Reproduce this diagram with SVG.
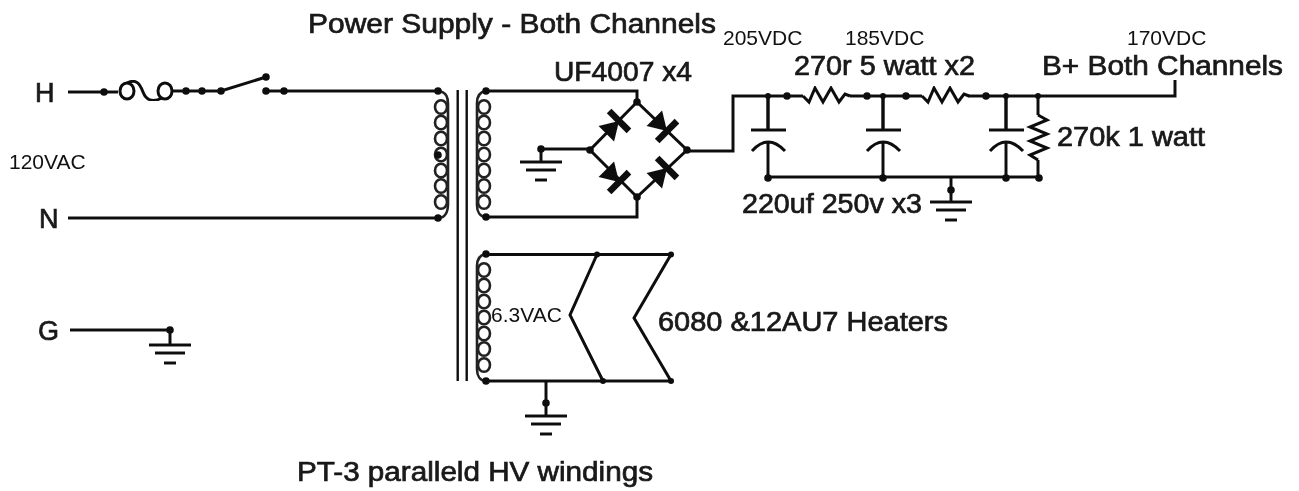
<svg xmlns="http://www.w3.org/2000/svg" width="1299" height="491" viewBox="0 0 1299 491">
<defs>
<style>
.w{fill:none;stroke:#111;stroke-width:3;stroke-linejoin:miter}
.t{fill:none;stroke:#111;stroke-width:2.400}
.c{fill:none;stroke:#222;stroke-width:2.600}
.b{font-family:"Liberation Sans",Arial,sans-serif;font-size:27px;fill:#1a1a1a;stroke:#1a1a1a;stroke-width:.7}
.s{font-family:"Liberation Sans",Arial,sans-serif;font-size:21px;fill:#111}
</style>
<filter id="soft" x="-2%" y="-2%" width="104%" height="104%"><feGaussianBlur stdDeviation="0.55"/></filter>
<circle id="d" r="3.800" fill="#111"/>
<circle id="e" r="3" fill="#111"/>
<path id="gnd" class="w" d="M-21 0H21M-15 8H15M-6 18H6"/>
<g id="coil"><ellipse class="c" cx="0" cy="16" rx="6" ry="6.800"/><ellipse class="c" cx="0" cy="31.500" rx="6" ry="6.800"/><ellipse class="c" cx="0" cy="47.500" rx="6" ry="6.800"/><ellipse class="c" cx="0" cy="63.500" rx="6" ry="6.800"/><ellipse class="c" cx="0" cy="79.500" rx="6" ry="6.800"/><ellipse class="c" cx="0" cy="95" rx="6" ry="6.800"/><ellipse class="c" cx="0" cy="111" rx="6" ry="6.800"/></g>
<g id="diode"><path d="M-12 -11L-12 11L6 0Z" fill="#111"/><path d="M6 -14V14" stroke="#111" stroke-width="6.500"/></g>
<path id="cap" class="w" d="M0 0V34M-17 34H18M0 46V81M-16 55Q0 37 17 55"/>
<path id="res" class="w" d="M0 0L6 6L12 -8L20 6L28 -8L36 6L42 -2L47 0"/>
</defs>
<rect width="1299" height="491" fill="#fff"/>
<g id="connectors" filter="url(#soft)">
<path class="w" d="M68 92H118M172 91H221L266 77M266 91H438M68 218H438M70 330H170V345"/>
<path class="w" d="M486 91H637V102L590 150L637 197V217H486M637 102L687 150L637 197M541 149H590M541 149V162M687 151H733V96H803M850 96H922M968 96H1175V80M768 96V130M883 96V130M1006 96V130"/>
<path class="w" d="M768 177H1039M1038 96V115M1038 160V177M951 177V202"/>
<path class="w" d="M486 254.500H671L634 318L671 381H486M597 254.500L570 315L603 381M546 381V416"/>
</g>
<g id="fuse" filter="url(#soft)"><ellipse class="w" cx="127" cy="91" rx="7" ry="8"/><ellipse class="w" cx="165" cy="91" rx="7" ry="8"/><path class="w" d="M127 83C136 78 140 84 143 92C146 100 152 103 162 98"/><use href="#d" x="104" y="92"/><use href="#d" x="186" y="91"/><use href="#d" x="202" y="91"/><use href="#d" x="221" y="91"/></g>
<g id="switch" filter="url(#soft)"><use href="#d" x="266" y="77"/><use href="#d" x="266" y="91"/><use href="#d" x="284" y="91"/></g>
<g id="transformer" filter="url(#soft)">
<path class="t" d="M457.700 90V381M466.700 90V381"/>
<use href="#coil" x="441" y="91"/><path class="c" d="M438 91C447 92 448 98 448 104V204C448 212 445 218 438 218"/>
<use href="#coil" x="484" y="91"/><path class="c" d="M486 91C479 92 477 97 477 103V205C477 212 480 217 486 217"/>
<use href="#coil" x="484" y="254"/><path class="c" d="M486 254C479 255 477 260 477 266V369C477 376 480 381 486 381"/>
<use href="#d" x="438" y="91"/><use href="#d" x="438" y="218"/><use href="#d" x="438" y="155"/><use href="#d" x="486" y="91"/><use href="#d" x="486" y="217"/><use href="#d" x="486" y="254"/><use href="#d" x="486" y="381"/>
</g>
<g id="bridge" filter="url(#soft)">
<use href="#diode" transform="translate(614.800 125.200) rotate(-45)"/><use href="#diode" transform="translate(662.800 126.800) rotate(45)"/><use href="#diode" transform="translate(614.800 177.800) rotate(45)"/><use href="#diode" transform="translate(662.800 172.200) rotate(-45)"/>
<use href="#d" x="637" y="102"/><use href="#d" x="590" y="150"/><use href="#d" x="687" y="150"/><use href="#d" x="637" y="197"/>
</g>
<g id="filter-network" filter="url(#soft)">
<use href="#res" x="803" y="96"/><use href="#res" x="922" y="96"/>
<use href="#cap" x="768" y="96"/><use href="#cap" x="883" y="96"/><use href="#cap" x="1006" y="96"/>
<path class="w" d="M1038 115L1047 120L1030 127L1047 134L1030 141L1047 148L1030 155L1038 160"/>
<use href="#e" x="768" y="96"/><use href="#d" x="787" y="96"/><use href="#d" x="867" y="96"/><use href="#e" x="883" y="96"/><use href="#d" x="906" y="96"/><use href="#d" x="986" y="96"/><use href="#e" x="1006" y="96"/><use href="#e" x="1038" y="96"/>
<use href="#d" x="768" y="178"/><use href="#d" x="883" y="178"/><use href="#d" x="1006" y="178"/><use href="#d" x="1039" y="178"/>
</g>
<g id="heaters" filter="url(#soft)"><use href="#e" x="597" y="254.500"/><use href="#e" x="671" y="254.500"/><use href="#e" x="603" y="381"/><use href="#e" x="671" y="381"/></g>
<g id="grounds" filter="url(#soft)">
<use href="#d" x="170" y="330"/><use href="#gnd" x="170" y="345"/>
<use href="#d" x="541" y="149"/><use href="#gnd" x="541" y="162"/>
<use href="#d" x="546" y="403"/><use href="#gnd" x="546" y="416"/>
<use href="#d" x="951" y="190"/><use href="#gnd" x="951" y="202"/>
</g>
<g id="labels-main" filter="url(#soft)">
<text class="b" x="308" y="33" textLength="408" lengthAdjust="spacingAndGlyphs">Power Supply - Both Channels</text>
<text class="b" x="35" y="102">H</text>
<text class="b" x="39" y="228">N</text>
<text class="b" x="38" y="340">G</text>
<text class="b" x="554" y="81" textLength="138" lengthAdjust="spacingAndGlyphs">UF4007 x4</text>
<text class="b" x="794" y="75" textLength="181" lengthAdjust="spacingAndGlyphs">270r 5 watt x2</text>
<text class="b" x="1042" y="75" textLength="241" lengthAdjust="spacingAndGlyphs">B+ Both Channels</text>
<text class="b" x="1057" y="146" textLength="148" lengthAdjust="spacingAndGlyphs">270k 1 watt</text>
<text class="b" x="742" y="213" textLength="180" lengthAdjust="spacingAndGlyphs">220uf 250v x3</text>
<text class="b" x="658" y="331" textLength="290" lengthAdjust="spacingAndGlyphs">6080 &amp;12AU7 Heaters</text>
<text class="b" x="297" y="481" textLength="356" lengthAdjust="spacingAndGlyphs">PT-3 paralleld HV windings</text>
</g>
<g id="labels-volt">
<text class="s" x="9" y="169">120VAC</text>
<text class="s" x="723" y="45">205VDC</text>
<text class="s" x="845" y="45">185VDC</text>
<text class="s" x="1127" y="45">170VDC</text>
<text class="s" x="491" y="322">6.3VAC</text>
</g>
</svg>
